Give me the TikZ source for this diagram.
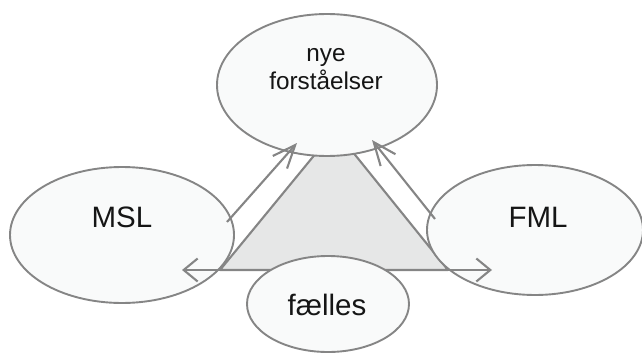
\documentclass[tikz,border=0pt]{standalone}
\usepackage{fontspec}
\setmainfont{Liberation Sans}
\usetikzlibrary{shapes.geometric,arrows.meta}
\definecolor{edgegray}{HTML}{858585}
\definecolor{ellfill}{HTML}{F9FAFA}
\definecolor{trifill}{HTML}{E6E7E7}
\definecolor{txt}{HTML}{151515}
\begin{document}
\begin{tikzpicture}[x=1pt,y=-1pt,
  oval/.style={ellipse,draw=edgegray,fill=ellfill,line width=1.9pt,inner sep=0pt},
  lbl/.style={anchor=base,text=txt,font=\fontsize{29.5}{31}\selectfont,inner sep=0pt},
  smalllbl/.style={anchor=base,text=txt,font=\fontsize{24.3}{26}\selectfont,inner sep=0pt},
  diagarrow/.style={draw=edgegray,line width=2.1pt,-{Straight Barb[length=23pt,width=19pt]}},
  horarrow/.style={draw=edgegray,line width=2.1pt,{Straight Barb[length=14pt,width=23pt]}-{Straight Barb[length=14pt,width=23pt]}},
  triside/.style={draw=edgegray,line width=2.1pt,fill=trifill,line join=round}]
\useasboundingbox (0,0) rectangle (642,353);
% triangle
\coordinate (tl) at (220,270);
\coordinate (tr) at (448,270);
\coordinate (tt) at (335,130);
\path[triside] (tl) -- (tt) -- (tr) -- cycle;
% ellipses
\node[oval,minimum width=220pt,minimum height=142pt] (top) at (327,85) {};
\node[oval,minimum width=224pt,minimum height=136pt] (msl) at (122,235) {};
\node[oval,minimum width=216pt,minimum height=130pt] (fml) at (535,230) {};
% arrows
\coordinate (la) at (227,222);
\coordinate (lb) at (297,143);
\coordinate (ra) at (435,219);
\coordinate (rb) at (372,140);
\coordinate (ha) at (182,270);
\coordinate (hb) at (492,270);
\draw[diagarrow] (la) -- (lb);
\draw[diagarrow] (ra) -- (rb);
\draw[horarrow] (ha) -- (hb);
% bottom ellipse
\node[oval,minimum width=162pt,minimum height=96pt] (faelles) at (328,304) {};
% labels
\node[smalllbl] (t1) at (326,62) {nye};
\node[smalllbl] (t2) at (326,89) {forståelser};
\node[lbl] (t3) at (122,227) {MSL};
\node[lbl] (t4) at (538,227) {FML};
\node[lbl] (t5) at (327,315) {fælles};
\end{tikzpicture}
\end{document}
